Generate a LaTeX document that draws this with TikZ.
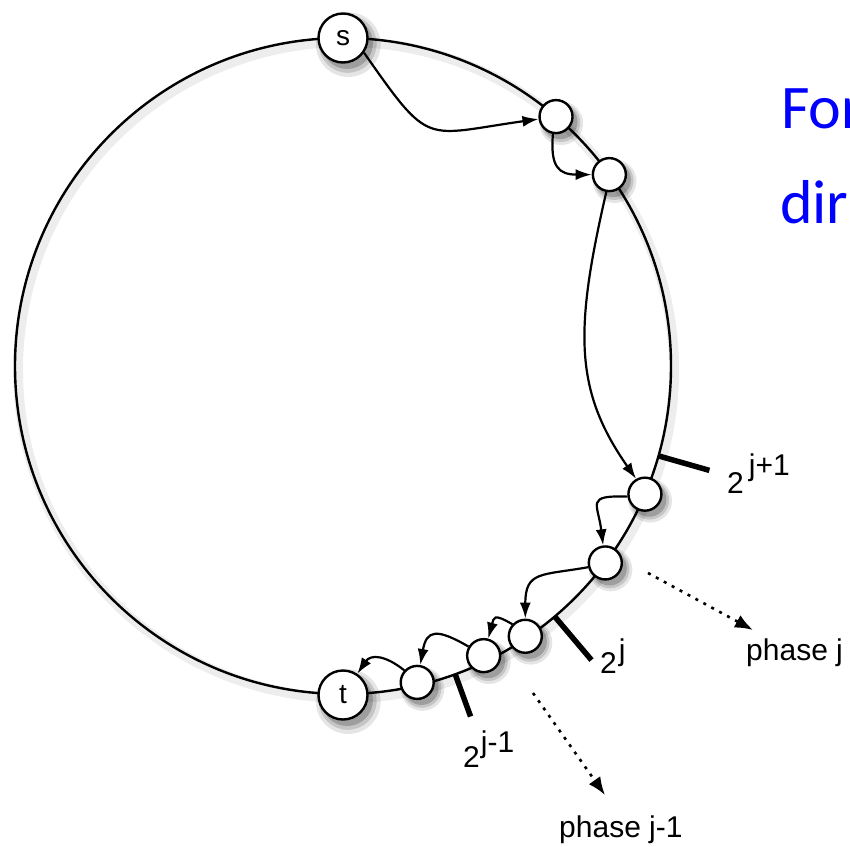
\documentclass[tikz,border=0pt]{standalone}
\usepackage{fontspec}
\setmainfont{Liberation Sans}
\newfontfamily\slidefont{Carlito}
\definecolor{slideblue}{RGB}{0,0,255}
\usetikzlibrary{arrows.meta,calc,shadows}

% 2 with a raised exponent: gap, raise, exponent
\newcommand{\twopow}[3]{2\kern#1\raisebox{#2}{#3}}

\begin{document}
\begin{tikzpicture}[x=1pt, y=1pt,
        soft/.style={drop shadow={shadow xshift=4pt, shadow yshift=-5pt, shadow scale=1.32, opacity=0.10, fill=black},
                     drop shadow={shadow xshift=4pt, shadow yshift=-5pt, shadow scale=1.18, opacity=0.14, fill=black},
                     drop shadow={shadow xshift=4pt, shadow yshift=-5pt, shadow scale=1.05, opacity=0.20, fill=black}},
        vtx/.style={circle, draw, line width=2.4pt, fill=white, minimum size=33pt, inner sep=0pt, soft},
        endvtx/.style={vtx, minimum size=49pt, font=\fontsize{28}{32}\selectfont},
        hop/.style={-{Latex[length=16pt,width=11pt]}, line width=2.2pt},
        cut/.style={line width=5.5pt},
        lbl/.style={font=\fontsize{30}{34}\selectfont, inner sep=0pt, anchor=base west},
        phase/.style={font=\fontsize{30}{34}\selectfont, inner sep=0pt, anchor=base west},
        dotarr/.style={dash pattern=on 3pt off 6pt, line width=2.6pt, -{Latex[length=18pt,width=14pt]}}
      ]
        \useasboundingbox (0,0) rectangle (850,-846);
        \coordinate (o) at (343,-366);

        % ring
        \draw[line width=10pt, black!7] ($(o)+(3,-4)$) circle (328);
        \draw[line width=2.4pt] (o) circle (328);

        % cut marks
        \draw[cut] ($(o)+(-15.9:328)$) -- ($(o)+(-15.9:381)$);
        \draw[cut] ($(o)+(-49.8:328)$) -- ($(o)+(-49.8:385)$);
        \draw[cut] ($(o)+(-70:328)$)   -- ($(o)+(-70:373)$);

        % vertices
        \node[endvtx] (s)  at ($(o)+(90:328)$)    {s};
        \node[vtx]    (n1) at ($(o)+(49.5:328)$)  {};
        \node[vtx]    (n2) at ($(o)+(35.7:328)$)  {};
        \node[vtx]    (n3) at ($(o)+(-23:328)$)   {};
        \node[vtx]    (n4) at ($(o)+(-36.9:328)$) {};
        \node[vtx]    (n5) at ($(o)+(-56:326)$)   {};
        \node[vtx]    (n6) at ($(o)+(-64.1:322)$) {};
        \node[vtx]    (n7) at ($(o)+(-76.8:325)$) {};
        \node[endvtx] (t)  at ($(o)+(-90:329)$)   {t};

        % hops
        \draw[hop] (s.-35) to[out=-55, in=188, looseness=1.6] (n1);
        \draw[hop] (n1.-100) to[out=-95, in=180, looseness=1.5] (n2);
        \draw[hop] (n2.-100) .. controls +(-103:142) and +(125:108) .. (n3.120);
        \draw[hop] (n3.188) to[out=178, in=97, looseness=2] (n4);
        \draw[hop] (n4.194) to[out=190, in=90, looseness=1.5] (n5);
        \draw[hop] (n5.137) to[out=150, in=75, looseness=2] (n6);
        \draw[hop] (n6.149) to[out=150, in=80, looseness=1.8] (n7);
        \draw[hop] (n7.137) to[out=141, in=56, looseness=1.3] (t);

        % labels
        \node[lbl] (c1) at (727,-493) {\twopow{5pt}{18pt}{j+1}};
        \node[lbl] (c2) at (600,-673) {\twopow{2pt}{13pt}{j}};
        \node[lbl] (c3) at (463,-767) {\twopow{1pt}{15pt}{j-1}};

        \node[phase] (pj) at (746,-660) {phase j};
        \node[phase] (pk) at (559,-837) {phase j-1};
        \coordinate (pja) at (648,-573);
        \coordinate (pjb) at (753,-630);
        \coordinate (pka) at (533,-693);
        \coordinate (pkb) at (605,-795);
        \draw[dotarr] (pja) -- (pjb);
        \draw[dotarr] (pka) -- (pkb);

        % slide text
        \node[font=\slidefont\fontsize{62}{74}\selectfont, text=slideblue, inner sep=0pt, anchor=base west] (fwd) at (781,-128) {For};
        \node[font=\slidefont\fontsize{62}{74}\selectfont, text=slideblue, inner sep=0pt, anchor=base west] (dir) at (780,-223) {dir};
      \end{tikzpicture}
\end{document}
